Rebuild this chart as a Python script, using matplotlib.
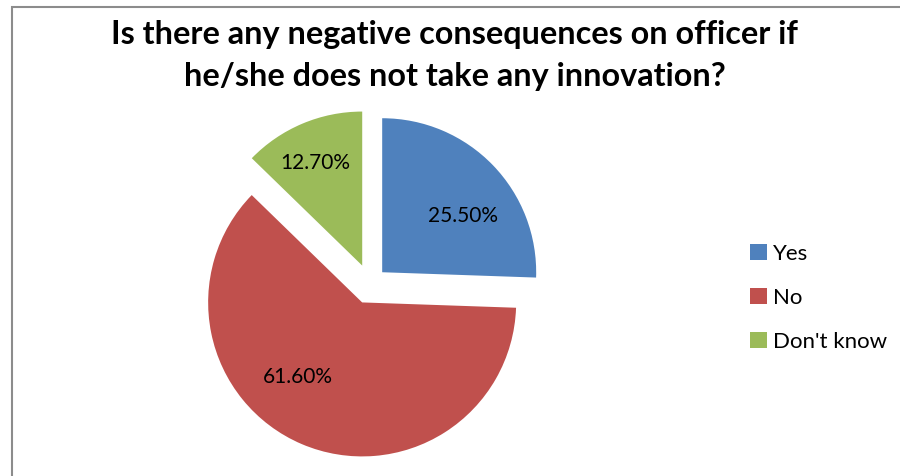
import numpy as np
import matplotlib.pyplot as plt
from matplotlib.patches import Rectangle

# data
labels = ["Yes", "No", "Don't know"]
shares = [25.5, 61.6, 12.7]
colors = ["#4F81BD", "#C0504D", "#9BBB59"]
explode = [0.11, 0.13, 0.13]
title = "Is there any negative consequences on officer if\nhe/she does not take any innovation?"

# label placement (radius as fraction of r, angle tweak in degrees)
lab_rad = [0.64, 0.64, 0.73]
lab_turn = [-9, -18, 1.5]

FONT = ["Lato", "DejaVu Sans"]
W, H = 900, 476
fig = plt.figure(figsize=(W / 100, H / 100), dpi=100)
fig.patch.set_facecolor("white")

# pie centre and radius in pixels (image coords: y from top)
cx, cy, r = 370, 284, 154
xr, yr = 1.3, 1.2
ax = fig.add_axes([(cx - xr * r) / W, (H - cy - yr * r) / H,
                   2 * xr * r / W, 2 * yr * r / H])

wedges, texts = ax.pie(
    shares, colors=colors, explode=explode, startangle=90,
    counterclock=False, wedgeprops=dict(linewidth=0))
ax.set_xlim(-xr, xr)
ax.set_ylim(-yr, yr)
ax.axis("off")

for w, v, rr, dt in zip(wedges, shares, lab_rad, lab_turn):
    ang = np.deg2rad((w.theta1 + w.theta2) / 2 + dt)
    x0, y0 = w.center
    ax.text(x0 + rr * np.cos(ang), y0 + rr * np.sin(ang), f"{v:.2f}%",
            ha="center", va="center", fontsize=15, family=FONT)

fig.text(0.505, 0.958, title, ha="center", va="top", fontsize=23.3,
         fontweight="bold", family=FONT, linespacing=1.55)

leg = fig.legend(wedges, labels, loc="center left",
                 bbox_to_anchor=(730 / W, 1 - 297.5 / H), frameon=False,
                 prop=dict(family=FONT, size=16),
                 handlelength=0.75, handleheight=0.75, handletextpad=0.3,
                 labelspacing=1.08)

# chart border
fig.patches.append(Rectangle((11.5 / W, -0.1), 1.2, (H - 6.5) / H + 0.1,
                             transform=fig.transFigure, fill=False,
                             edgecolor="#8C8C8C", linewidth=1.5))

fig.savefig("out.png", dpi=100)
